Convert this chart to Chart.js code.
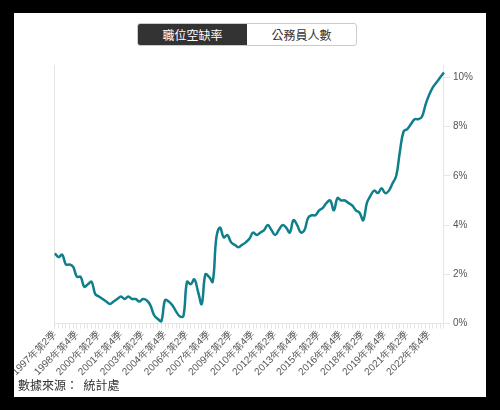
<!DOCTYPE html>
<html>
<head>
<meta charset="utf-8">
<script src="https://cdn.jsdelivr.net/npm/chart.js@4/dist/chart.umd.min.js"></script>
<style>
  body { margin: 0; background: #000; width: 500px; height: 410px; overflow: hidden;
         font-family: "Noto Sans CJK TC", "Noto Sans", sans-serif; }
  #card { position: absolute; left: 14px; top: 13px; width: 472px; height: 384px; background: #fff; }
  #tabs { position: absolute; left: 123px; top: 10px; display: flex; border: 1px solid #ccc; border-radius: 3px; overflow: hidden; }
  #tabs div { width: 109px; height: 21px; line-height: 21px; text-align: center; font-size: 12px; color: #333; }
  #tabs .on { background: #333; color: #fff; }
  #wrap { position: absolute; left: 0; top: 40px; width: 472px; height: 325px; }
  #src { position: absolute; left: 4px; top: 363px; font-size: 12px; color: #333; }
</style>
</head>
<body>
<div id="card">
  <div id="tabs"><div class="on">職位空缺率</div><div>公務員人數</div></div>
  <div id="wrap"><canvas id="c"></canvas></div>
  <div id="src">數據來源：&nbsp;&nbsp;統計處</div>
</div>
<script>
/* --------------- Data: 1997 Q2 - 2023 Q4 --------------- */
const quarterNames = ["第1季", "第2季", "第3季", "第4季"];
const quarters = [];
for (let y = 1997; y <= 2023; y++) {
  for (let q = 0; q < 4; q++) {
    if (y === 1997 && q === 0) continue;
    quarters.push(y + "年" + quarterNames[q]);
  }
}
const vacancyRate = [
  2.85, 2.7, 2.8, 2.4, 2.4, 2.3, 1.9, 1.9, 1.5, 1.6,
  1.7, 1.2, 1.1, 1.0, 0.9, 0.8, 0.9, 1.0, 1.1, 1.0,
  1.1, 1.0, 1.0, 0.9, 1.0, 0.95, 0.75, 0.35, 0.2, 0.1,
  0.95, 0.9, 0.75, 0.5, 0.3, 0.3, 1.7, 1.6, 1.8, 1.3,
  0.8, 2.0, 1.9, 1.7, 3.5, 3.9, 3.5, 3.6, 3.3, 3.2,
  3.1, 3.2, 3.3, 3.45, 3.7, 3.6, 3.7, 3.8, 4.0, 3.8,
  3.6, 3.8, 4.0, 3.9, 3.7, 4.2, 4.0, 3.7, 3.8, 4.3,
  4.4, 4.4, 4.6, 4.7, 4.9, 5.0, 4.6, 5.1, 5.0, 5.0,
  4.9, 4.8, 4.6, 4.5, 4.2, 4.9, 5.2, 5.4, 5.3, 5.5,
  5.3, 5.4, 5.7, 6.0, 7.0, 7.8, 7.9, 8.1, 8.3, 8.3,
  8.4, 8.9, 9.3, 9.6, 9.8, 10.0, 10.2
];
const yTicks = [0, 2, 4, 6, 8, 10];

new Chart(document.getElementById("c"), {
  type: "line",
  data: {
    labels: quarters,
    datasets: [{
      data: vacancyRate,
      borderColor: "#0f7f8c",
      borderWidth: 2.5,
      pointRadius: 0,
      tension: 0.4,
      fill: false
    }]
  },
  options: {
    responsive: true,
    maintainAspectRatio: false,
    animation: false,
    layout: { padding: { left: 0, right: 10, top: 12, bottom: 0 } },
    plugins: { legend: { display: false }, tooltip: { enabled: false } },
    scales: {
      x: {
        offset: false,
        grid: { drawOnChartArea: false, color: "#e6e6e6", tickLength: 5 },
        border: { color: "#e6e6e6" },
        ticks: {
          autoSkip: false,
          maxRotation: 45,
          minRotation: 45,
          color: "#555",
          font: { size: 10 },
          padding: 0,
          callback: (v, i) => (i % 6 === 0 ? quarters[i] : "")
        }
      },
      y: {
        position: "right",
        min: 0,
        max: 10.5,
        afterBuildTicks: (axis) => { axis.ticks = yTicks.map(v => ({ value: v })); },
        grid: { drawOnChartArea: false, color: "#e6e6e6", tickLength: 6 },
        border: { color: "#e6e6e6" },
        ticks: { color: "#555", font: { size: 10 }, callback: v => v + "%" }
      },
      y2: {
        position: "left",
        min: 0, max: 10.5,
        grid: { display: false },
        border: { color: "#e6e6e6" },
        ticks: { display: false }
      }
    }
  }
});
</script>
</body>
</html>
